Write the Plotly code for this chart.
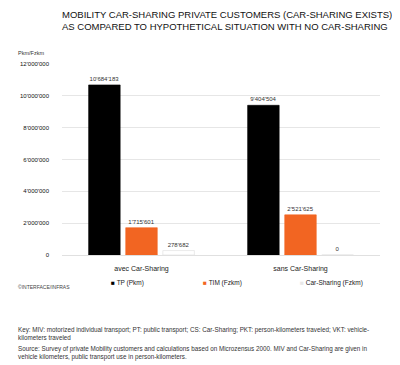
import plotly.graph_objects as go

categories = ["avec Car-Sharing", "sans Car-Sharing"]
series_names = ["TP (Pkm)", "TIM (Fzkm)", "Car-Sharing (Fzkm)"]
tp_values = [10684183, 9404504]
tim_values = [1715601, 2521625]
cs_values = [278682, 0]
tick_values = [0, 2000000, 4000000, 6000000, 8000000, 10000000, 12000000]

colors = ["#000000", "#f26522", "#ffffff"]
line_colors = ["#000000", "#f26522", "#dddddd"]

# page has an 8px body margin; figure drawn at offset (8, 8)
OFF = 8
W, H = 400 - OFF, 365 - OFF
L, R, T, B = 55 - OFF, 20, 64 - OFF, 110
PW, PH = W - L - R, H - T - B

def px(x):
    return (x - OFF - L) / PW

def py(y):
    return (H + OFF - B - y) / PH

FONT = "Liberation Sans, Arial, sans-serif"

fig = go.Figure()
for name, vals, c, lc in zip(series_names, [tp_values, tim_values, cs_values], colors, line_colors):
    fig.add_trace(go.Bar(
        x=categories, y=vals, name=name,
        marker=dict(color=c, line=dict(color=lc, width=0.6)),
        texttemplate="%{y:,d}", textposition="outside",
        textfont=dict(size=6, color="#333333", family=FONT),
        cliponaxis=False, showlegend=False,
    ))

fig.update_layout(
    width=W, height=H,
    margin=dict(l=L, r=R, t=T, b=B),
    paper_bgcolor="white", plot_bgcolor="white",
    barmode="group", bargap=0.30, bargroupgap=0.15,
    separators=".'",
    font=dict(family=FONT, color="#222222"),
    xaxis=dict(showline=False, ticks="", tickfont=dict(size=7, color="#222222"),
               ticklabelstandoff=8),
    yaxis=dict(range=[0, 12000000], tickvals=tick_values, tickformat=",d",
               tickfont=dict(size=6, color="#111111"),
               gridcolor="#e6e6e6", gridwidth=1, zeroline=True,
               zerolinecolor="#e0e0e0", zerolinewidth=1,
               showline=False, ticks="", ticklabelstandoff=12),
)

ann = []
ann.append(dict(text="MOBILITY CAR-SHARING PRIVATE CUSTOMERS (CAR-SHARING EXISTS)<br>AS COMPARED TO HYPOTHETICAL SITUATION WITH NO CAR-SHARING",
                x=px(53), y=py(21), xanchor="left", yanchor="middle", align="left",
                font=dict(size=9.5, color="#111111", family=FONT)))
ann.append(dict(text="Pkm/Fzkm", x=px(8), y=py(53), xanchor="left", yanchor="middle",
                font=dict(size=5.5, color="#333333", family=FONT)))
ann.append(dict(text="©INTERFACE/INFRAS", x=px(8), y=py(287), xanchor="left", yanchor="middle",
                font=dict(size=5, color="#444444", family=FONT)))
for name, sq, xp in zip(series_names, ["#000000", "#f26522", "#e8e8e8"], [103, 197, 296]):
    ann.append(dict(text=f"<span style='color:{sq}'>■</span> {name}", x=px(xp), y=py(283),
                    xanchor="left", yanchor="middle",
                    font=dict(size=6.5, color="#222222", family=FONT)))
ann.append(dict(text="Key: MIV: motorized individual transport; PT: public transport; CS: Car-Sharing; PKT: person-kilometers traveled; VKT: vehicle-<br>kilometers traveled",
                x=px(8), y=py(324), xanchor="left", yanchor="top", align="left",
                font=dict(size=6.3, color="#333333", family=FONT)))
ann.append(dict(text="Source: Survey of private Mobility customers and calculations based on Microzensus 2000. MIV and Car-Sharing are given in<br>vehicle kilometers, public transport use in person-kilometers.",
                x=px(8), y=py(343), xanchor="left", yanchor="top", align="left",
                font=dict(size=6.3, color="#333333", family=FONT)))
for a in ann:
    a.update(xref="paper", yref="paper", showarrow=False)
fig.update_layout(annotations=ann)

fig.write_html("out.html")
